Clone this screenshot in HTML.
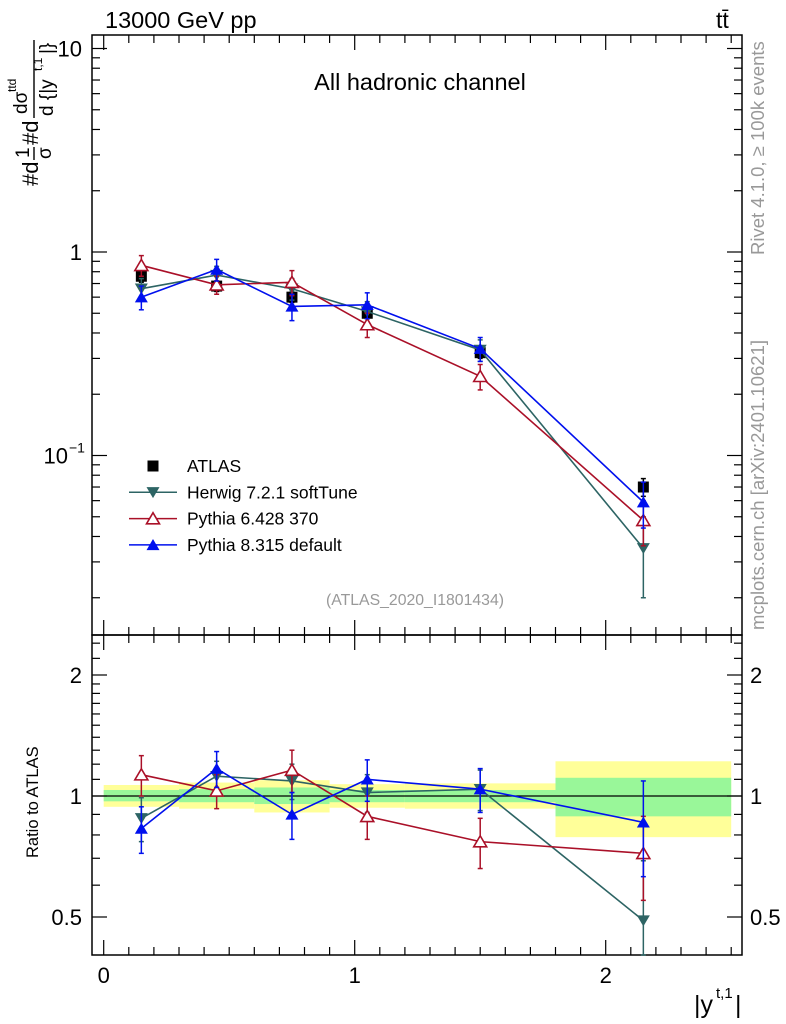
<!DOCTYPE html>
<html><head><meta charset="utf-8">
<style>
html,body{margin:0;padding:0;background:#fff;}
svg{display:block;font-family:"Liberation Sans",Arial,sans-serif;}
</style></head>
<body>
<svg id="chart" width="786" height="1024" viewBox="0 0 786 1024" xmlns="http://www.w3.org/2000/svg">
  <text x="105" y="28" font-size="23.5">13000 GeV pp</text>
  <text x="716" y="28" font-size="23">tt̄</text>
  <text x="420" y="90" font-size="23.5" text-anchor="middle">All hadronic channel</text>
  <text x="415" y="605" font-size="15.8" fill="#999" text-anchor="middle">(ATLAS_2020_I1801434)</text>
  <text transform="translate(764,255) rotate(-90)" font-size="18.5" fill="#999">Rivet 4.1.0, ≥ 100k events</text>
  <text transform="translate(764,630) rotate(-90)" font-size="18.5" fill="#999">mcplots.cern.ch [arXiv:2401.10621]</text>
  <g transform="translate(38,186) rotate(-90)" font-size="22">
    <text x="0" y="0">#d</text>
    <text x="28" y="-9" font-size="19">1</text>
    <line x1="26" y1="-4" x2="39" y2="-4" stroke="#000" stroke-width="1.4"/>
    <text x="27" y="13" font-size="19">σ</text>
    <text x="41" y="0">#d</text>
    <text x="72" y="-11" font-size="19">dσ</text>
    <text x="94" y="-22" font-size="12">ttd</text>
    <line x1="68" y1="-4" x2="146" y2="-4" stroke="#000" stroke-width="1.4"/>
    <text x="70" y="15" font-size="19">d {|y</text>
    <text x="115" y="4" font-size="12">t,1</text>
    <text x="132" y="15" font-size="19">|}</text>
  </g>
  <text transform="translate(38,858) rotate(-90)" font-size="16.5">Ratio to ATLAS</text>
  <text x="694" y="1013" font-size="25">|y</text>
  <text x="716" y="998" font-size="15">t,1</text>
  <text x="735" y="1013" font-size="25">|</text>
  <g id="plot"></g>
</svg>
<script>
const xCenters = [0.15, 0.45, 0.75, 1.05, 1.5, 2.15];
const binEdges = [0, 0.3, 0.6, 0.9, 1.2, 1.8, 2.5];
const atlasVals = [0.76, 0.68, 0.60, 0.50, 0.32, 0.070];
const atlasErr = [0.05, 0.04, 0.035, 0.03, 0.02, 0.007];
const herwigVals = [0.66, 0.77, 0.66, 0.51, 0.33, 0.035];
const herwigErr = [0.08, 0.08, 0.08, 0.06, 0.04, 0.015];
const py6Vals = [0.86, 0.69, 0.71, 0.44, 0.245, 0.048];
const py6Err = [0.1, 0.07, 0.1, 0.06, 0.035, 0.012];
const py8Vals = [0.60, 0.82, 0.54, 0.55, 0.335, 0.059];
const py8Err = [0.08, 0.1, 0.08, 0.08, 0.045, 0.015];
const herwigRatio = [0.88, 1.12, 1.09, 1.02, 1.04, 0.49];
const herwigRatioErr = [0.11, 0.10, 0.11, 0.11, 0.12, 0.2];
const py6Ratio = [1.13, 1.03, 1.16, 0.89, 0.77, 0.72];
const py6RatioErr = [0.13, 0.10, 0.14, 0.11, 0.11, 0.17];
const py8Ratio = [0.83, 1.17, 0.90, 1.10, 1.04, 0.86];
const py8RatioErr = [0.11, 0.12, 0.12, 0.13, 0.13, 0.23];
const yellowLo = [0.94, 0.93, 0.91, 0.935, 0.93, 0.79];
const yellowHi = [1.065, 1.08, 1.095, 1.07, 1.075, 1.22];
const greenLo = [0.97, 0.965, 0.955, 0.965, 0.965, 0.89];
const greenHi = [1.035, 1.04, 1.05, 1.035, 1.035, 1.11];
const xTickLabels = ["0", "1", "2"];
const mainTickLabels = ["10", "1"];
const ratioTickLabels = ["0.5", "1", "2"];

const NS = "http://www.w3.org/2000/svg";
const L = 92, R = 742, T1 = 35, B1 = 635, T2 = 635, B2 = 955;
const X = v => 103.7 + 251 * v;
const Y1 = v => 252 - 203.5 * Math.log10(v);
const Y2 = v => 796 - 121 * Math.log2(v);
const plot = document.getElementById('plot');
function mk(tag, attrs, parent) {
  const e = document.createElementNS(NS, tag);
  for (const k in attrs) e.setAttribute(k, attrs[k]);
  (parent || plot).appendChild(e);
  return e;
}

const bands = mk('g', {});


for (let i = 0; i < xCenters.length; i++) {
  const x0 = X(binEdges[i]), x1 = X(binEdges[i + 1]);
  const yb = mk('rect', {x: x0, y: Y2(yellowHi[i]), width: x1 - x0, height: Y2(yellowLo[i]) - Y2(yellowHi[i]), fill: '#ffff99'}, bands);
  
  
  const gb = mk('rect', {x: x0, y: Y2(greenHi[i]), width: x1 - x0, height: Y2(greenLo[i]) - Y2(greenHi[i]), fill: '#99f799'}, bands);
  
  
}
const ref = mk('line', {x1: L, x2: R, y1: Y2(1), y2: Y2(1), stroke: '#000', 'stroke-width': 1.3});



const f1 = mk('rect', {x: L, y: T1, width: R - L, height: B1 - T1, fill: 'none', stroke: '#000', 'stroke-width': 1.5});


const f2 = mk('rect', {x: L, y: T2, width: R - L, height: B2 - T2, fill: 'none', stroke: '#000', 'stroke-width': 1.5});



const ticks = mk('g', {stroke: '#000', 'stroke-width': 1.2});


for (let k = 0; k <= 25; k++) {
  const v = k / 10, x = X(v), len = (k % 10 === 0) ? 15 : 8;
  [[T1, 1], [B1, -1], [T2, 1], [B2, -1]].forEach(([y, d]) => mk('line', {x1: x, x2: x, y1: y, y2: y + d * len}, ticks));
}
for (let d = -2; d <= 1; d++) {
  for (let m = 1; m <= 9; m++) {
    const v = m * Math.pow(10, d), y = Y1(v);
    if (y < T1 || y > B1) continue;
    const len = m === 1 ? 15 : 8;
    mk('line', {x1: L, x2: L + len, y1: y, y2: y}, ticks);
    mk('line', {x1: R, x2: R - len, y1: y, y2: y}, ticks);
  }
}
[0.4,0.5,0.6,0.7,0.8,0.9,1,1.1,1.2,1.3,1.4,1.5,1.6,1.7,1.8,1.9,2,2.2,2.4].forEach(v => {
  const y = Y2(v);
  if (y < T2 + 1 || y > B2 - 1) return;
  const len = (v === 0.5 || v === 1 || v === 2) ? 15 : 8;
  mk('line', {x1: L, x2: L + len, y1: y, y2: y}, ticks);
  mk('line', {x1: R, x2: R - len, y1: y, y2: y}, ticks);
});

const labs = mk('g', {'font-size': 22});


xTickLabels.forEach(t => { const e = mk('text', {x: X(+t), y: 983, 'text-anchor': 'middle'}, labs); e.textContent = t; });
mainTickLabels.forEach(t => { const e = mk('text', {x: 82, y: Y1(+t) + 8, 'text-anchor': 'end'}, labs); e.textContent = t; });
const tm = mk('text', {x: 68, y: Y1(0.1) + 8, 'text-anchor': 'end'}, labs); tm.textContent = '10';
const tsup = mk('text', {x: 69, y: Y1(0.1) - 3, 'font-size': 14}, labs); tsup.textContent = '−1';
ratioTickLabels.forEach(t => {
  const e1 = mk('text', {x: 82, y: Y2(+t) + 8, 'text-anchor': 'end'}, labs); e1.textContent = t;
  const e2 = mk('text', {x: 750, y: Y2(+t) + 8}, labs); e2.textContent = t;
});

function marker(g, type, x, y, color) {
  const s = 6.5;
  if (type === 'square') mk('rect', {x: x - 5.5, y: y - 5.5, width: 11, height: 11, fill: '#000'}, g);
  else if (type === 'down') mk('polygon', {points: `${x-s},${y-s*0.8} ${x+s},${y-s*0.8} ${x},${y+s*0.9}`, fill: color}, g);
  else if (type === 'up') mk('polygon', {points: `${x-s},${y+s*0.8} ${x+s},${y+s*0.8} ${x},${y-s*0.9}`, fill: color}, g);
  else if (type === 'upopen') mk('polygon', {points: `${x-s},${y+s*0.8} ${x+s},${y+s*0.8} ${x},${y-s*0.9}`, fill: '#fff', stroke: color, 'stroke-width': 1.6}, g);
}
function series(name, vals, errs, Yf, color, type, line) {
  const g = mk('g', {});
  
  
  if (line) mk('polyline', {points: vals.map((v, i) => X(xCenters[i]) + ',' + Yf(v)).join(' '), fill: 'none', stroke: color, 'stroke-width': 1.6}, g);
  vals.forEach((v, i) => {
    const x = X(xCenters[i]);
    const lo = Math.min(B2, Yf(Math.max(v - errs[i], 1e-4))), hi = Yf(v + errs[i]);
    mk('line', {x1: x, x2: x, y1: lo, y2: hi, stroke: color, 'stroke-width': 1.5}, g);
    mk('line', {x1: x - 2.5, x2: x + 2.5, y1: lo, y2: lo, stroke: color, 'stroke-width': 1.5}, g);
    mk('line', {x1: x - 2.5, x2: x + 2.5, y1: hi, y2: hi, stroke: color, 'stroke-width': 1.5}, g);
    marker(g, type, x, Yf(v), color);
  });
}
const cH = '#2d6464', c6 = '#aa1028', c8 = '#0010ee';
series('atlas-data', atlasVals, atlasErr, Y1, '#000', 'square', false);
series('herwig-series', herwigVals, herwigErr, Y1, cH, 'down', true);
series('pythia6-series', py6Vals, py6Err, Y1, c6, 'upopen', true);
series('pythia8-series', py8Vals, py8Err, Y1, c8, 'up', true);
series('herwig-ratio', herwigRatio, herwigRatioErr, Y2, cH, 'down', true);
series('pythia6-ratio', py6Ratio, py6RatioErr, Y2, c6, 'upopen', true);
series('pythia8-ratio', py8Ratio, py8RatioErr, Y2, c8, 'up', true);

const leg = mk('g', {'font-size': 17.5});


const entries = [['ATLAS', '#000', 'square', false], ['Herwig 7.2.1 softTune', cH, 'down', true], ['Pythia 6.428 370', c6, 'upopen', true], ['Pythia 8.315 default', c8, 'up', true]];
entries.forEach((e, i) => {
  const y = 466 + i * 26.3;
  const g = mk('g', {}, leg);
  
  
  if (e[3]) mk('line', {x1: 129, x2: 177, y1: y, y2: y, stroke: e[1], 'stroke-width': 1.5}, g);
  marker(g, e[2], 153, y, e[1]);
  const t = mk('text', {x: 187, y: y + 6}, g); t.textContent = e[0];
});
</script>
</body></html>
